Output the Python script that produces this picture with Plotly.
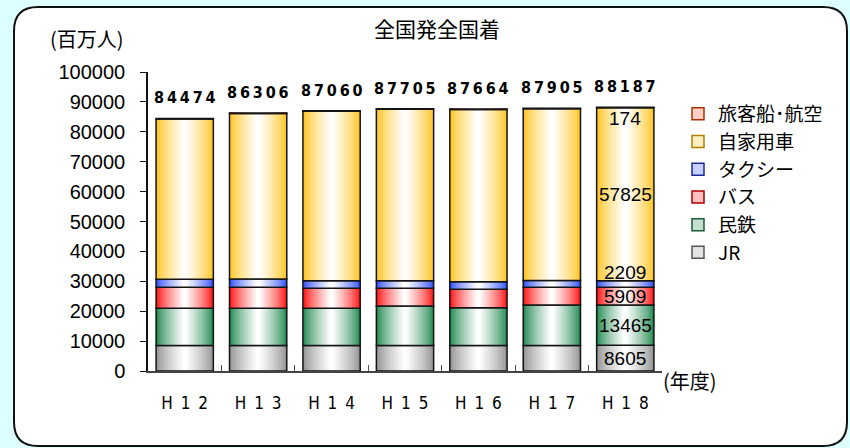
import plotly.graph_objects as go
import numpy as np

# ---------------- data ----------------
categories = ["H12", "H13", "H14", "H15", "H16", "H17", "H18"]
tick_labels = ["H\u00a0\u20091\u00a0\u20092", "H\u00a0\u20091\u00a0\u20093", "H\u00a0\u20091\u00a0\u20094",
               "H\u00a0\u20091\u00a0\u20095", "H\u00a0\u20091\u00a0\u20096", "H\u00a0\u20091\u00a0\u20097",
               "H\u00a0\u20091\u00a0\u20098"]
series_names = ["JR", "民鉄", "バス", "タクシー", "自家用車", "旅客船･航空"]
jr = [8500, 8500, 8500, 8500, 8500, 8550, 8605]
mintetsu = [12470, 12470, 12470, 13240, 12670, 13520, 13465]
bus = [7030, 7030, 6690, 5920, 6150, 5930, 5909]
taxi = [2700, 2750, 2500, 2500, 2500, 2300, 2209]
car = [53609, 55386, 56730, 57370, 57674, 57430, 57825]
ship_air = [165, 170, 170, 175, 170, 175, 174]
totals = [84474, 86306, 87060, 87705, 87664, 87905, 88187]
y_ticks = [0, 10000, 20000, 30000, 40000, 50000, 60000, 70000, 80000, 90000, 100000]
y_tick_labels = ["0", "10000", "20000", "30000", "40000", "50000", "60000", "70000", "80000", "90000", "100000"]

# ---------------- styles ----------------
edge_colors = [(150, 150, 150), (40, 140, 85), (255, 25, 25), (55, 85, 255), (255, 198, 40), (255, 90, 40)]
legend_line = ["#555555", "#1d5a3a", "#b00000", "#1a2a9a", "#b08000", "#b03000"]
JP = "Noto Sans CJK JP"
NUM = "Liberation Sans, Arial, sans-serif"
NARROW = "Liberation Sans Narrow, DejaVu Sans Condensed, Arial Narrow, sans-serif"
W = 0.78
N = 14

L, R, T, B = 148, 662, 72, 371
FW, FH = 850, 448


def mix(rgb, t):
    r, g, b = [int(round(c + (255 - c) * t)) for c in rgb]
    return f"rgb({r},{g},{b})"


fig = go.Figure()
values = [jr, mintetsu, bus, taxi, car, ship_air]
base = np.zeros(len(categories))
tops = []
for name, vals, rgb in zip(series_names, values, edge_colors):
    v = np.array(vals, dtype=float)
    for k in range(N):
        w = W * (1 - k / N)
        t = (k / (N - 1)) ** 0.8
        fig.add_bar(x=categories, y=v, base=base, width=w,
                    marker=dict(color=mix(rgb, t), line=dict(width=0)),
                    showlegend=False, hoverinfo="skip")
    fig.add_bar(x=categories, y=v, base=base, width=W,
                marker=dict(color="rgba(0,0,0,0)", line=dict(color="#141414", width=1.5)),
                showlegend=False, name=name)
    base = base + v
    tops.append(base.copy())

# legend-only traces (display order top to bottom)
for i in reversed(range(len(series_names))):
    fig.add_bar(x=[None], y=[None], name=series_names[i],
                marker=dict(color=mix(edge_colors[i], 0.72), line=dict(color=legend_line[i], width=1.5)),
                showlegend=True)

ann = []
# totals on top
for c, tot in zip(categories, totals):
    ann.append(dict(x=c, y=tot, xref="x", yref="y", yanchor="bottom", yshift=9,
                    text="\u2009".join(str(tot)), showarrow=False,
                    font=dict(family=NARROW, size=16, color="black", weight="bold")))
# labels on last bar
last = categories[-1]
i = len(categories) - 1
seg_bottoms = [0] + [tp[i] for tp in tops[:-1]]
label_pos = {
    0: (seg_bottoms[0] + jr[i] / 2),
    1: (seg_bottoms[1] + mintetsu[i] / 2),
    2: (seg_bottoms[2] + bus[i] / 2),
    3: (tops[3][i] + 2600),
    4: (seg_bottoms[4] + car[i] / 2),
    5: (totals[i] - 3900),
}
for s, ypos in label_pos.items():
    ann.append(dict(x=last, y=ypos, xref="x", yref="y", text=str(values[s][i]), showarrow=False,
                    font=dict(family=NUM, size=19, color="black")))


def px(x):
    return (x - L) / (R - L)


def py(y):
    return (B - y) / (B - T)


# axis titles
ann.append(dict(x=px(87), y=py(38), xref="paper", yref="paper", xanchor="center", yanchor="middle",
                text="(百万人)", showarrow=False, font=dict(family=JP, size=20, color="black")))
ann.append(dict(x=px(661), y=py(380), xref="paper", yref="paper", xanchor="left", yanchor="middle",
                text="(年度)", showarrow=False, font=dict(family=JP, size=20, color="black")))

# rounded white panel
x0, x1, y0, y1 = 14, 847, 7, 446
r = 24
path = (f"M {px(x0 + r)} {py(y0)} L {px(x1 - r)} {py(y0)} Q {px(x1)} {py(y0)} {px(x1)} {py(y0 + r)} "
        f"L {px(x1)} {py(y1 - r)} Q {px(x1)} {py(y1)} {px(x1 - r)} {py(y1)} "
        f"L {px(x0 + r)} {py(y1)} Q {px(x0)} {py(y1)} {px(x0)} {py(y1 - r)} "
        f"L {px(x0)} {py(y0 + r)} Q {px(x0)} {py(y0)} {px(x0 + r)} {py(y0)} Z")

fig.update_layout(
    width=FW, height=FH,
    margin=dict(l=L, r=FW - R, t=T, b=FH - B, pad=0, autoexpand=False),
    barmode="overlay",
    paper_bgcolor="#DDFFFF",
    plot_bgcolor="rgba(0,0,0,0)",
    shapes=[dict(type="path", path=path, xref="paper", yref="paper", layer="below",
                 fillcolor="white", line=dict(color="#111111", width=2))],
    annotations=ann,
    title=dict(text="全国発全国着", x=437 / FW, xanchor="center", y=1 - 30 / FH, yanchor="middle",
               font=dict(family=JP, size=21, color="black")),
    legend=dict(x=px(678), xanchor="left", y=py(95), yanchor="top",
                font=dict(family=JP, size=19, color="black"), bgcolor="rgba(0,0,0,0)",
                tracegroupgap=0, itemwidth=30, traceorder="normal"),
    showlegend=True,
    xaxis=dict(type="category", categoryorder="array", categoryarray=categories,
               tickvals=categories, ticktext=tick_labels, tickson="boundaries",
               ticks="inside", ticklen=6, tickcolor="#555555", tickwidth=1,
               showline=True, linecolor="#444444", linewidth=2, showgrid=False, automargin=False,
               ticklabelstandoff=16, tickfont=dict(family=NARROW, size=17, color="black"),
               range=[-0.5, 6.5], fixedrange=True),
    yaxis=dict(range=[0, 100000], tickvals=y_ticks, ticktext=y_tick_labels, ticks="outside", ticklen=6,
               tickcolor="#111111", tickwidth=1, showline=True, linecolor="#111111", linewidth=1.5,
               showgrid=False, zeroline=False, ticklabelstandoff=11, automargin=False,
               tickfont=dict(family=NUM, size=20, color="black"), fixedrange=True),
    font=dict(family=JP),
)

fig.write_html("out.html", config={"displayModeBar": False},
               post_script="document.body.style.margin='0px';document.body.style.background='#DDFFFF';")
